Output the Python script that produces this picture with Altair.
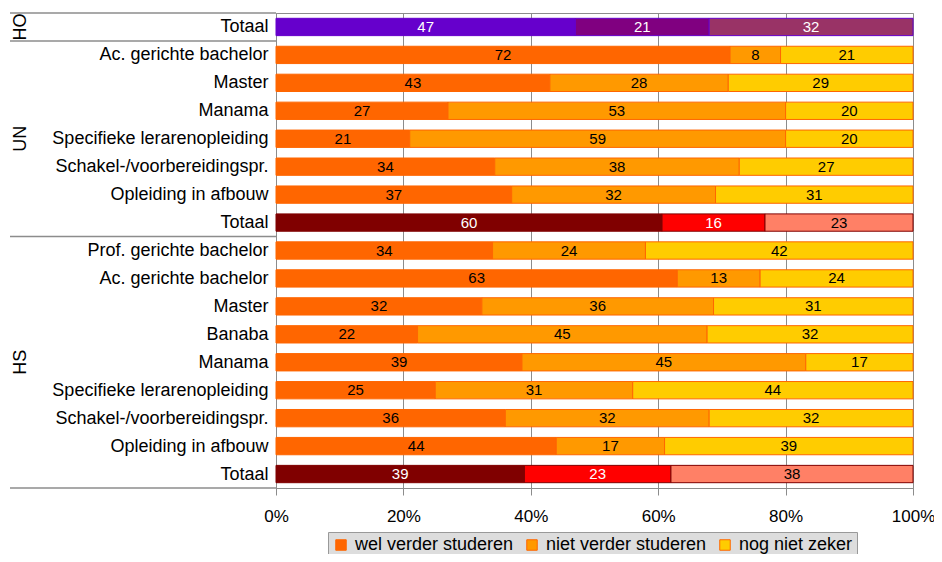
import json
import altair as alt
import pandas as pd

# ---------------- data ----------------
series = ["wel verder studeren", "niet verder studeren", "nog niet zeker"]

ho_categories = ["Totaal"]
ho_wel = [47]
ho_niet = [21]
ho_nog = [32]

un_categories = ["Ac. gerichte bachelor", "Master", "Manama", "Specifieke lerarenopleiding",
                 "Schakel-/voorbereidingspr.", "Opleiding in afbouw", "Totaal"]
un_wel = [72, 43, 27, 21, 34, 37, 60]
un_niet = [8, 28, 53, 59, 38, 32, 16]
un_nog = [21, 29, 20, 20, 27, 31, 23]

hs_categories = ["Prof. gerichte bachelor", "Ac. gerichte bachelor", "Master", "Banaba", "Manama",
                 "Specifieke lerarenopleiding", "Schakel-/voorbereidingspr.", "Opleiding in afbouw", "Totaal"]
hs_wel = [34, 63, 32, 22, 39, 25, 36, 44, 39]
hs_niet = [24, 13, 36, 45, 45, 31, 32, 17, 23]
hs_nog = [42, 24, 31, 32, 17, 44, 32, 39, 38]

groups = ["HO", "UN", "HS"]

# ---------------- styles ----------------
series_colors = ["#FF6600", "#FF9900", "#FFCC00"]
total_fill = {"HO": ["#6600CC", "#800080", "#993366"],
              "UN": ["#800000", "#FF0000", "#FF8066"],
              "HS": ["#800000", "#FF0000", "#FF8066"]}
total_text = {"HO": ["white", "white", "white"],
              "UN": ["white", "white", "black"],
              "HS": ["white", "white", "black"]}
total_stroke = {"HO": "#6600CC", "UN": "#800000", "HS": "#800000"}
FONT = "Liberation Sans"
GRAY = "#8c8c8c"

# ---------------- build table ----------------
group_data = {
    "HO": (ho_categories, ho_wel, ho_niet, ho_nog),
    "UN": (un_categories, un_wel, un_niet, un_nog),
    "HS": (hs_categories, hs_wel, hs_niet, hs_nog),
}
records = []
row_labels = []
r = 0
for g in groups:
    cats, wel, niet, nog = group_data[g]
    for i, c in enumerate(cats):
        row_labels.append(c)
        is_total = c == "Totaal"
        for k, vals in enumerate([wel, niet, nog]):
            records.append({
                "key": f"{g}|{c}", "r": r, "group": g, "category": c,
                "series": series[k], "order": k, "value": vals[i],
                "total": is_total,
                "fillc": total_fill[g][k] if is_total else series_colors[k],
                "strokec": total_stroke[g] if is_total else "#FF6600",
                "textc": total_text[g][k] if is_total else "black",
            })
        r += 1
df = pd.DataFrame(records)
n_rows = r

label_expr = json.dumps(row_labels) + "[datum.value]"

yscale = alt.Scale(domain=[-0.5, n_rows - 0.5], reverse=True, nice=False, zero=False)
xscale = alt.Scale(domain=[0, 1], nice=False, zero=False)

base = alt.Chart(df).transform_stack(
    stack="value", groupby=["key"], as_=["s0", "s1"], offset="normalize",
    sort=[alt.SortField("order", order="ascending")]
).transform_calculate(
    mid="(datum.s0 + datum.s1) / 2",
    y0="datum.r - 0.31",
    y1="datum.r + 0.31",
)

xaxis = alt.Axis(values=[0, 0.2, 0.4, 0.6, 0.8, 1], format=".0%", grid=True, gridColor=GRAY,
                 tickColor=GRAY, tickSize=7, labelFontSize=17, labelPadding=13,
                 labelFlush=False, labelOverlap=False,
                 domainColor=GRAY, title=None, labelFont=FONT, labelColor="black")
yaxis = alt.Axis(values=list(range(n_rows)), labelExpr=label_expr, ticks=False, grid=False,
                 domainColor=GRAY, labelFontSize=18, labelPadding=8, title=None,
                 labelLimit=400, labelOverlap=False,
                 labelFont=FONT, labelColor="black")

bars = base.transform_filter("!datum.total").mark_bar(stroke="#FF6600", strokeWidth=1).encode(
    x=alt.X("s0:Q", scale=xscale, axis=xaxis),
    x2="s1:Q",
    y=alt.Y("y0:Q", scale=yscale, axis=yaxis),
    y2="y1:Q",
    color=alt.Color("series:N", scale=alt.Scale(domain=series, range=series_colors),
                    legend=alt.Legend(title=None)),
)

total_bars = base.transform_filter("datum.total").mark_bar(strokeWidth=1).encode(
    x=alt.X("s0:Q", scale=xscale, axis=xaxis),
    x2="s1:Q",
    y=alt.Y("y0:Q", scale=yscale, axis=yaxis),
    y2="y1:Q",
    fill=alt.Fill("fillc:N", scale=None),
    stroke=alt.Stroke("strokec:N", scale=None),
)

labels = base.mark_text(fontSize=15, baseline="middle", align="center", font=FONT).encode(
    x=alt.X("mid:Q", scale=xscale, axis=xaxis),
    y=alt.Y("r:Q", scale=yscale, axis=yaxis),
    text=alt.Text("value:Q"),
    color=alt.Color("textc:N", scale=None),
)

group_labels = alt.Chart(df).transform_aggregate(
    rmin="min(r)", rmax="max(r)", groupby=["group"]
).transform_calculate(
    gm="(datum.rmin + datum.rmax) / 2"
).mark_text(angle=270, fontSize=18, font=FONT, baseline="middle", align="center", color="black").encode(
    x=alt.value(-255),
    y=alt.Y("gm:Q", scale=yscale, axis=yaxis),
    text="group:N",
)

sep_rules = alt.Chart(df).transform_aggregate(
    rmin="min(r)", groupby=["group"]
).transform_calculate(
    b="datum.rmin - 0.5"
).mark_rule(color=GRAY, strokeWidth=1.5).encode(
    x=alt.value(-266), x2=alt.value(0),
    y=alt.Y("b:Q", scale=yscale, axis=yaxis),
)

bottom_rule = alt.Chart(df).transform_aggregate(
    rmax="max(r)"
).transform_calculate(
    b="datum.rmax + 0.5"
).mark_rule(color=GRAY, strokeWidth=1.5).encode(
    x=alt.value(-266), x2=alt.value(0),
    y=alt.Y("b:Q", scale=yscale, axis=yaxis),
)

chart = alt.layer(bars, total_bars, labels, group_labels, sep_rules, bottom_rule).properties(
    width=637, height=475,
    autosize=alt.AutoSizeParams(type="none"),
    padding={"left": 268, "top": 5, "right": 21, "bottom": 66},
).configure(font=FONT).configure_view(
    stroke=GRAY, strokeWidth=1
).configure_legend(
    orient="none", legendX=52, legendY=519, direction="horizontal",
    fillColor="#DDDDDD", strokeColor="#999999", padding=4,
    labelFontSize=18, labelFont=FONT, labelColor="black", labelLimit=400,
    symbolType="square", symbolSize=110, symbolStrokeColor="#FF6600", symbolStrokeWidth=1,
    columnPadding=9, labelOffset=5, symbolOpacity=1,
)

chart.save("out.html", embed_options={"renderer": "svg", "actions": False})
